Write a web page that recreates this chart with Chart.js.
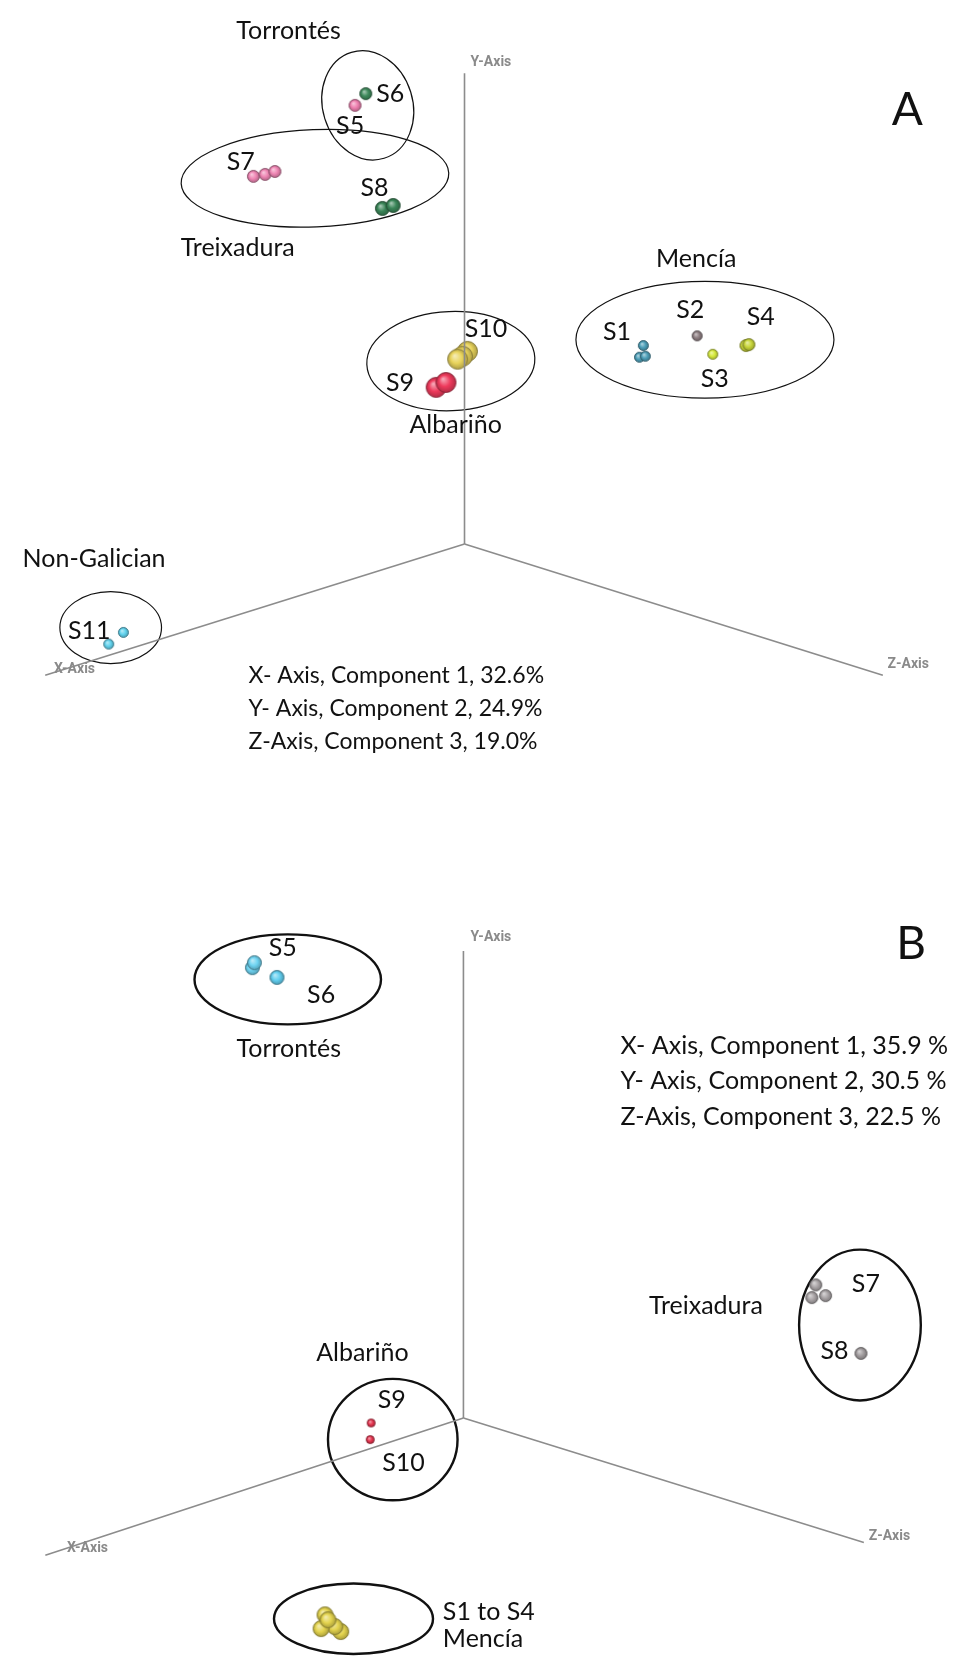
<!DOCTYPE html>
<html><head><meta charset="utf-8">
<script src="https://cdn.jsdelivr.net/npm/chart.js@4"></script>
<style>
html,body{margin:0;padding:0;background:#fff;}
#wrap{position:relative;width:973px;height:1665px;overflow:hidden;}
.panel{position:absolute;left:0;width:973px;}
#pa{top:0;height:800px;}
#pb{top:800px;height:865px;}
</style></head><body>
<div id="wrap">
<div class="panel" id="pa"><canvas id="ca" width="973" height="800"></canvas></div>
<div class="panel" id="pb"><canvas id="cb" width="973" height="865"></canvas></div>
</div>
<script>
// ---- Panel A: projected PCA scores (plot units, origin where the three axes meet) ----
const aS1 = [[1.83,2.04],[1.79,1.92],[1.85,1.93]];
const aS2 = [[2.38,2.14]];
const aS3 = [[2.54,1.95]];
const aS4 = [[2.88,2.04],[2.91,2.05]];
const aS5 = [[-1.12,4.51]];
const aS6 = [[-1.01,4.63]];
const aS7 = [[-2.16,3.78],[-2.04,3.80],[-1.94,3.83]];
const aS8 = [[-0.84,3.45],[-0.73,3.48]];
const aS9 = [[-0.29,1.61],[-0.19,1.66]];
const aS10 = [[0.03,1.98],[-0.02,1.93],[-0.07,1.90]];
const aS11 = [[-3.49,-0.91],[-3.64,-1.03]];
const aAxisX = [[0,0],[-4.29,-1.35]];
const aAxisY = [[0,0],[0,4.84]];
const aAxisZ = [[0,0],[4.28,-1.35]];
const aVariance = ['X- Axis, Component 1, 32.6%','Y- Axis, Component 2, 24.9%','Z-Axis, Component 3, 19.0%'];

// ---- Panel B ----
const bS5 = [[-2.15,4.60],[-2.13,4.65]];
const bS6 = [[-1.90,4.50]];
const bS7 = [[3.59,1.36],[3.55,1.23],[3.69,1.25]];
const bS8 = [[4.05,0.66]];
const bS9 = [[-0.94,-0.05]];
const bS10 = [[-0.95,-0.22]];
const bS1to4 = [[-1.41,-2.01],[-1.25,-2.18],[-1.31,-2.13],[-1.45,-2.15],[-1.38,-2.06]];
const bAxisX = [[0,0],[-4.26,-1.40]];
const bAxisY = [[0,0],[0,4.77]];
const bAxisZ = [[0,0],[4.08,-1.27]];
const bVariance = ['X- Axis, Component 1, 35.9 %','Y- Axis, Component 2, 30.5 %','Z-Axis, Component 3, 22.5 %'];

// ---------- helpers ----------
function hex(c){const n=parseInt(c.slice(1),16);return [(n>>16)&255,(n>>8)&255,n&255];}
function mix(c,t,a){const p=hex(c);return 'rgb('+p.map((v,i)=>Math.round(v+(t[i]-v)*a)).join(',')+')';}
function sphere(color,r){
  const s=Math.ceil(r*2+3), c=document.createElement('canvas');
  c.width=s;c.height=s;
  const g=c.getContext('2d'), cx=s/2, cy=s/2;
  const grd=g.createRadialGradient(cx-r*0.3,cy-r*0.35,r*0.05,cx,cy,r);
  grd.addColorStop(0,mix(color,[255,255,255],0.55));
  grd.addColorStop(0.55,color);
  grd.addColorStop(1,mix(color,[0,0,0],0.25));
  g.fillStyle=grd;g.beginPath();g.arc(cx,cy,r,0,Math.PI*2);g.fill();
  g.lineWidth=0.9;g.strokeStyle=mix(color,[0,0,0],0.45);g.stroke();
  return c;
}
const pts = a => a.map(([x,y])=>({x,y}));
function balls(data,color,r){
  return {type:'scatter',data:pts(data),pointStyle:sphere(color,r),pointRadius:r,pointHoverRadius:r,showLine:false};
}
function axis(data){
  return {type:'scatter',data:pts(data),showLine:true,borderColor:'#8c8c8c',borderWidth:1.6,pointRadius:0,pointHoverRadius:0};
}

// ellipses and text drawn in plot units through the chart scales
const decor = {
  id:'decor',
  beforeDatasetsDraw(chart,args,o){
    const {ctx,scales:{x,y}}=chart;
    ctx.save();
    (o.ellipses||[]).forEach(e=>{
      const cx=x.getPixelForValue(e.c[0]), cy=y.getPixelForValue(e.c[1]);
      const rx=Math.abs(x.getPixelForValue(e.c[0]+e.r[0])-cx);
      const ry=Math.abs(y.getPixelForValue(e.c[1]+e.r[1])-cy);
      ctx.beginPath();ctx.ellipse(cx,cy,rx,ry,e.rot||0,0,Math.PI*2);
      ctx.lineWidth=o.ellipseWidth;ctx.strokeStyle='#111';ctx.stroke();
    });
    ctx.restore();
  },
  afterDatasetsDraw(chart,args,o){
    const {ctx,scales:{x,y}}=chart;
    ctx.save();
    (o.texts||[]).forEach(t=>{
      ctx.font=t.font;ctx.fillStyle=t.color||'#111';
      ctx.textAlign=t.align||'center';ctx.textBaseline='middle';
      ctx.fillText(t.s,x.getPixelForValue(t.p[0]),y.getPixelForValue(t.p[1]));
    });
    ctx.restore();
  }
};

const LBL='25px Lato, "Open Sans", sans-serif';
const TXT='23px Lato, "Open Sans", sans-serif';
const TXTB='25px Lato, "Open Sans", sans-serif';
const BIG='46px Lato, "Open Sans", sans-serif';
const AXL='bold 14px Roboto, "DejaVu Sans", sans-serif';
const AXC='#8a8a8a';

function makeChart(id,datasets,xr,yr,decorOpts){
  return new Chart(document.getElementById(id),{
    type:'scatter',
    data:{datasets},
    options:{
      responsive:false,animation:false,
      layout:{padding:0},
      scales:{x:{type:'linear',min:xr[0],max:xr[1],display:false},
              y:{type:'linear',min:yr[0],max:yr[1],display:false}},
      plugins:{legend:{display:false},tooltip:{enabled:false},decor:decorOpts}
    },
    plugins:[decor]
  });
}

makeChart('ca',[
  axis(aAxisX),axis(aAxisY),axis(aAxisZ),
  balls(aS7,'#ef86b4',6),balls(aS5,'#ef80b0',6),balls(aS6,'#3f8a5c',6),
  balls(aS8,'#3a8558',7),
  balls(aS9,'#ee3a5c',10),balls(aS10,'#e9d45c',10),
  balls(aS1,'#4d9fb8',5),balls(aS2,'#8e7f82',5),balls(aS3,'#d7ea3c',5),balls(aS4,'#c9d63a',6),
  balls(aS11,'#62d3ee',5)
],[-4.64,5.09],[-2.52,5.48],{
  ellipseWidth:1.2,
  ellipses:[
    {c:[-0.99,4.51],r:[0.46,0.57],rot:-0.3},
    {c:[-1.53,3.76],r:[1.37,0.50],rot:-0.04},
    {c:[-0.14,1.88],r:[0.86,0.51],rot:-0.04},
    {c:[2.46,2.10],r:[1.32,0.60]},
    {c:[-3.62,-0.86],r:[0.52,0.37]}
  ],
  texts:[
    {s:'Torrontés',p:[-1.80,5.28],font:LBL},
    {s:'S6',p:[-0.76,4.63],font:LBL},
    {s:'S5',p:[-1.17,4.30],font:LBL},
    {s:'S7',p:[-2.29,3.93],font:LBL},
    {s:'S8',p:[-0.92,3.66],font:LBL},
    {s:'Treixadura',p:[-2.32,3.04],font:LBL},
    {s:'S10',p:[0.22,2.21],font:LBL},
    {s:'S9',p:[-0.66,1.66],font:LBL},
    {s:'Albariño',p:[-0.09,1.22],font:LBL},
    {s:'Mencía',p:[2.37,2.93],font:LBL},
    {s:'S1',p:[1.56,2.18],font:LBL},
    {s:'S2',p:[2.31,2.41],font:LBL},
    {s:'S4',p:[3.03,2.33],font:LBL},
    {s:'S3',p:[2.56,1.70],font:LBL},
    {s:'Non-Galician',p:[-3.79,-0.15],font:LBL},
    {s:'S11',p:[-3.84,-0.89],font:LBL},
    {s:aVariance[0],p:[-2.21,-1.35],font:TXT,align:'left'},
    {s:aVariance[1],p:[-2.21,-1.69],font:TXT,align:'left'},
    {s:aVariance[2],p:[-2.21,-2.03],font:TXT,align:'left'},
    {s:'A',p:[4.53,4.46],font:BIG},
    {s:'Y-Axis',p:[0.27,4.95],font:AXL,color:AXC},
    {s:'Z-Axis',p:[4.54,-1.24],font:AXL,color:AXC},
    {s:'X-Axis',p:[-3.99,-1.29],font:AXL,color:AXC}
  ]
});

makeChart('cb',[
  axis(bAxisX),axis(bAxisY),axis(bAxisZ),
  balls(bS5,'#6fd4f2',7),balls(bS6,'#62cff0',7),
  balls(bS7,'#a9a4a6',6),balls(bS8,'#a29d9f',6),
  balls(bS9,'#e6344f',4),balls(bS10,'#e6344f',4),
  balls(bS1to4,'#e4d44e',8)
],[-4.63,5.10],[-2.43,6.22],{
  ellipseWidth:2.4,
  ellipses:[
    {c:[-1.79,4.48],r:[0.95,0.46]},
    {c:[4.04,0.95],r:[0.62,0.77]},
    {c:[-0.72,-0.22],r:[0.66,0.62]},
    {c:[-1.12,-2.05],r:[0.81,0.36]}
  ],
  texts:[
    {s:'S5',p:[-1.84,4.80],font:LBL},
    {s:'S6',p:[-1.45,4.32],font:LBL},
    {s:'Torrontés',p:[-1.78,3.77],font:LBL},
    {s:bVariance[0],p:[1.60,3.80],font:TXTB,align:'left'},
    {s:bVariance[1],p:[1.60,3.44],font:TXTB,align:'left'},
    {s:bVariance[2],p:[1.60,3.08],font:TXTB,align:'left'},
    {s:'B',p:[4.56,4.84],font:BIG},
    {s:'Treixadura',p:[2.47,1.14],font:LBL},
    {s:'S7',p:[4.10,1.37],font:LBL},
    {s:'S8',p:[3.78,0.69],font:LBL},
    {s:'Albariño',p:[-1.03,0.67],font:LBL},
    {s:'S9',p:[-0.73,0.19],font:LBL},
    {s:'S10',p:[-0.61,-0.46],font:LBL},
    {s:'S1 to S4',p:[-0.21,-1.98],font:LBL,align:'left'},
    {s:'Mencía',p:[-0.21,-2.26],font:LBL,align:'left'},
    {s:'Y-Axis',p:[0.28,4.91],font:AXL,color:AXC},
    {s:'Z-Axis',p:[4.34,-1.21],font:AXL,color:AXC},
    {s:'X-Axis',p:[-3.83,-1.33],font:AXL,color:AXC}
  ]
});
</script>
</body></html>
